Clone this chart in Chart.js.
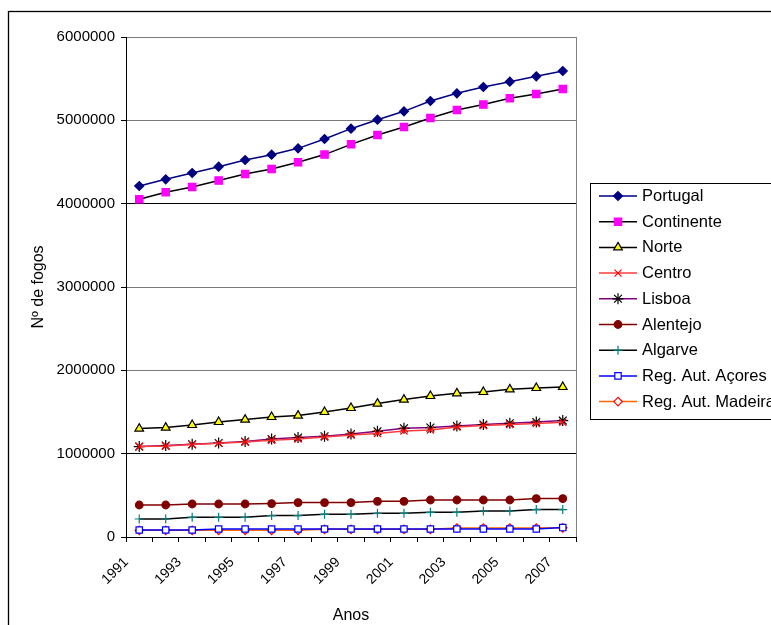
<!DOCTYPE html>
<html>
<head>
<meta charset="utf-8">
<script src="https://cdn.jsdelivr.net/npm/chart.js@4/dist/chart.umd.min.js"></script>
<style>
  html, body { margin: 0; padding: 0; background: #fff; overflow: hidden; }
  #wrap { width: 771px; height: 625px; position: relative; }
</style>
</head>
<body>
<div id="wrap"><canvas id="c" width="771" height="625"></canvas></div>
<script>
// Nº de fogos por região, 1991–2007
const anos = ['1991','1992','1993','1994','1995','1996','1997','1998','1999','2000','2001','2002','2003','2004','2005','2006','2007'];
const portugal  = [4212000,4292000,4368000,4444000,4524000,4588000,4664000,4776000,4900000,5008000,5108000,5232000,5324000,5400000,5464000,5528000,5592000];
const continente= [4052000,4136000,4200000,4277000,4356000,4416000,4496000,4589000,4712000,4824000,4920000,5028000,5124000,5189000,5264000,5316000,5376000];
const norte     = [1301000,1313000,1344000,1380000,1409000,1440000,1457000,1500000,1548000,1601000,1649000,1692000,1724000,1740000,1772000,1788000,1800000];
const centro    = [1085000,1092000,1109000,1124000,1140000,1160000,1176000,1200000,1224000,1241000,1272000,1284000,1320000,1337000,1349000,1361000,1376000];
const lisboa    = [1085000,1097000,1112000,1128000,1145000,1176000,1193000,1208000,1236000,1268000,1304000,1313000,1332000,1349000,1364000,1380000,1397000];
const alentejo  = [384000,384000,396000,396000,396000,401000,413000,413000,413000,428000,428000,444000,444000,444000,444000,461000,461000];
const algarve   = [216000,216000,236000,236000,236000,257000,257000,272000,272000,284000,284000,296000,296000,312000,312000,329000,329000];
const acores    = [84000,84000,84000,96000,96000,96000,96000,96000,96000,96000,96000,96000,96000,96000,96000,96000,113000];
const madeira   = [80000,80000,80000,80000,80000,80000,80000,92000,92000,92000,92000,92000,108000,108000,108000,108000,110000];
const yTicks    = [0,1000000,2000000,3000000,4000000,5000000,6000000];

const FONT = "'Liberation Sans', Arial, sans-serif";

function serie(label, data, line, fill, stroke, style, radius) {
  return {
    label, data,
    borderColor: line, borderWidth: 1.5,
    backgroundColor: fill,
    pointBackgroundColor: fill, pointBorderColor: stroke,
    pointStyle: style, pointRadius: radius, pointHoverRadius: radius,
    pointBorderWidth: 1.2, tension: 0, fill: false
  };
}

const datasets = [
  serie('Portugal', portugal, '#000080', '#000080', '#000080', 'rectRot', 4.5),
  serie('Continente', continente, '#000000', '#ff00ff', '#ff00ff', 'rect', 5.2),
  serie('Norte', norte, '#000000', '#ffff00', '#000000', 'triangle', 5),
  serie('Centro', centro, '#ff3b3b', '#ff0000', '#ff0000', 'crossRot', 5),
  serie('Lisboa', lisboa, '#800080', '#000000', '#000000', 'star', 5.5),
  serie('Alentejo', alentejo, '#800000', '#800000', '#800000', 'circle', 3.8),
  serie('Algarve', algarve, '#000000', '#008080', '#008080', 'cross', 4.5),
  serie('Reg. Aut. Açores', acores, '#0000ff', '#ffffff', '#0000ff', 'rect', 4.5),
  serie('Reg. Aut. Madeira', madeira, '#ff6600', '#ffffff', '#ff0000', 'rectRot', 4.2)
];

// white page background, outer frame and grey right edge of the plot area
const framePlugin = {
  id: 'frame',
  beforeDraw(chart) {
    const ctx = chart.ctx;
    ctx.save();
    ctx.fillStyle = '#fff';
    ctx.fillRect(0, 0, chart.width, chart.height);
    ctx.strokeStyle = '#000';
    ctx.lineWidth = 1.3;
    ctx.strokeRect(8.5, 11.5, 900, 800);
    ctx.restore();
  },
  beforeDatasetsDraw(chart) {
    const a = chart.chartArea, ctx = chart.ctx;
    ctx.save();
    ctx.strokeStyle = '#808080';
    ctx.lineWidth = 1;
    ctx.beginPath();
    ctx.moveTo(Math.round(a.right) + 0.5, a.top);
    ctx.lineTo(Math.round(a.right) + 0.5, a.bottom);
    ctx.stroke();
    ctx.restore();
  }
};

// boxed legend with line + marker samples
const legendPlugin = {
  id: 'boxLegend',
  afterDraw(chart) {
    const ctx = chart.ctx;
    const bx = 590.5, by = 183.5, bw = 260, bh = 236;
    ctx.save();
    ctx.fillStyle = '#fff';
    ctx.fillRect(bx, by, bw, bh);
    ctx.strokeStyle = '#000';
    ctx.lineWidth = 1;
    ctx.strokeRect(bx, by, bw, bh);
    ctx.font = '16.5px ' + FONT;
    ctx.textBaseline = 'middle';
    ctx.textAlign = 'left';
    chart.data.datasets.forEach((ds, i) => {
      const y = 196 + i * 25.7;
      ctx.strokeStyle = ds.borderColor;
      ctx.lineWidth = ds.borderWidth;
      ctx.beginPath();
      ctx.moveTo(599, y);
      ctx.lineTo(637, y);
      ctx.stroke();
      ctx.fillStyle = ds.pointBackgroundColor;
      ctx.strokeStyle = ds.pointBorderColor;
      ctx.lineWidth = ds.pointBorderWidth;
      Chart.helpers.drawPoint(ctx, {pointStyle: ds.pointStyle, radius: ds.pointRadius, rotation: 0, borderWidth: ds.pointBorderWidth}, 618, y);
      ctx.fillStyle = '#000';
      ctx.fillText(ds.label, 642, y + 0.5);
    });
    ctx.restore();
  }
};

const gridColours = {0: '#000', 1000000: '#000', 2000000: '#7a7a7a', 3000000: '#7a7a7a', 4000000: '#000', 5000000: '#7a7a7a', 6000000: '#7a7a7a'};

new Chart(document.getElementById('c'), {
  type: 'line',
  data: { labels: anos, datasets },
  plugins: [framePlugin, legendPlugin],
  options: {
    responsive: false,
    animation: false,
    events: [],
    layout: { padding: { left: 0, top: 37, right: 195, bottom: 0 } },
    plugins: { legend: { display: false }, tooltip: { enabled: false } },
    scales: {
      x: {
        type: 'category',
        offset: true,
        grid: { offset: true, drawOnChartArea: false, drawTicks: true, tickLength: 5, tickColor: '#000', tickWidth: 1 },
        border: { color: '#000', width: 1 },
        ticks: {
          autoSkip: false, maxRotation: 45, minRotation: 45,
          labelOffset: -13, padding: 12,
          color: '#000', font: { family: FONT, size: 14 },
          callback(v, i) { return i % 2 === 0 ? anos[i] : ''; }
        },
        title: { display: true, text: 'Anos', color: '#000', font: { family: FONT, size: 16 }, padding: { top: 0, bottom: 0 } },
        afterFit(s) { s.height = 88; }
      },
      y: {
        min: 0, max: 6000000,
        afterBuildTicks(s) { s.ticks = yTicks.map(v => ({ value: v })); },
        grid: {
          color: c => gridColours[c.tick.value] || '#7a7a7a',
          lineWidth: 1, drawTicks: true, tickLength: 5, tickColor: '#000'
        },
        border: { color: '#000', width: 1 },
        ticks: {
          padding: 6, color: '#000', font: { family: FONT, size: 15 },
          callback(v) { return String(v); }
        },
        title: { display: true, text: 'Nº de fogos', color: '#000', font: { family: FONT, size: 16 }, padding: { top: 29, bottom: 0 } },
        afterFit(s) { s.width = 126; }
      }
    }
  }
});
</script>
</body>
</html>
